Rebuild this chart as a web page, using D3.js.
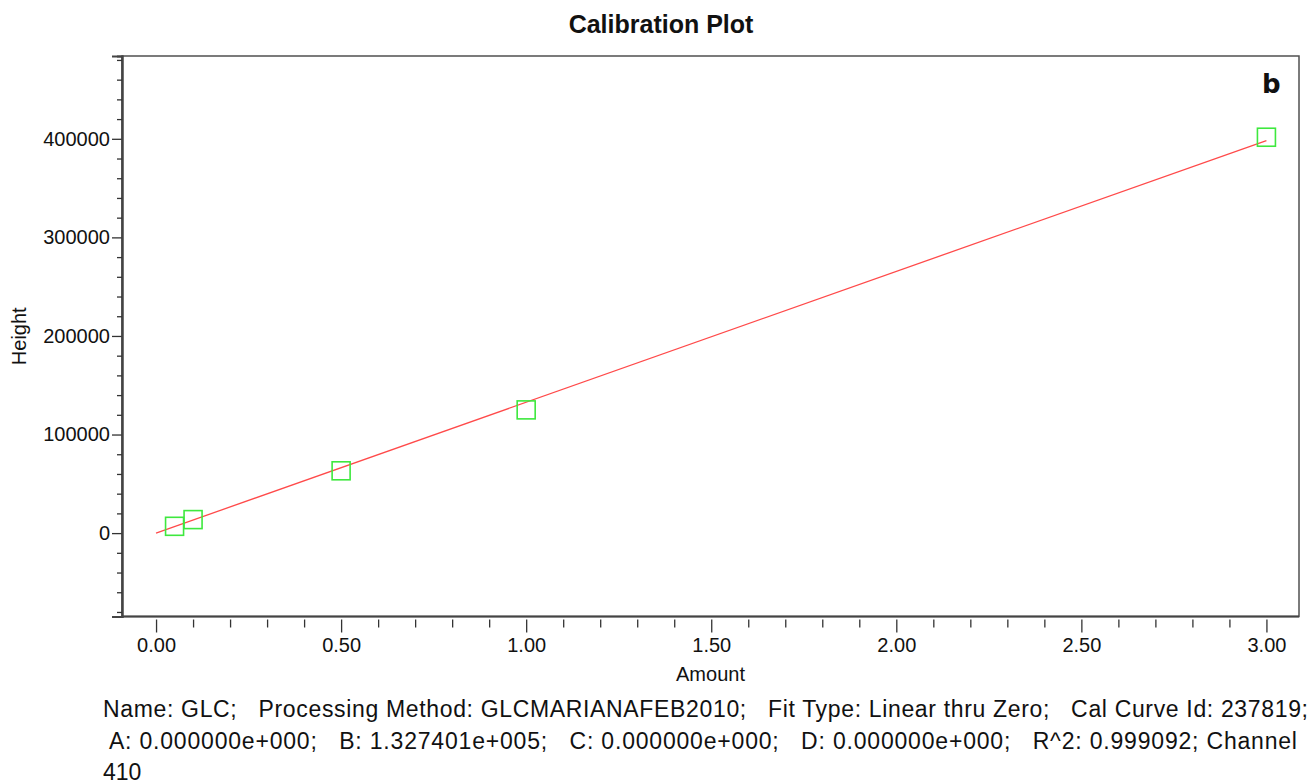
<!DOCTYPE html>
<html>
<head>
<meta charset="utf-8">
<script src="https://cdn.jsdelivr.net/npm/d3@7"></script>
<style>
  html, body { margin: 0; padding: 0; background: #fff; }
  svg { display: block; }
  text { font-family: "Liberation Sans", Arial, sans-serif; fill: #111; }
</style>
</head>
<body>
<svg id="chart" width="1313" height="784"></svg>
<script>
// Calibration standards: amount vs. detector height
const amounts = [0.05, 0.10, 0.50, 1.00, 3.00];
const heights = [6900, 13700, 63200, 125000, 401600];

// Fit coefficients (linear through zero)
const fitA = 0;
const fitB = 1.327401e5;
const fitRange = [0, 3.0];

// Axis ticks
const xMajorTicks = [0, 0.5, 1.0, 1.5, 2.0, 2.5, 3.0];
const xMinorTicks = [0.1, 0.2, 0.3, 0.4, 0.6, 0.7, 0.8, 0.9, 1.1, 1.2, 1.3, 1.4,
                     1.6, 1.7, 1.8, 1.9, 2.1, 2.2, 2.3, 2.4, 2.6, 2.7, 2.8, 2.9];
const yMajorTicks = [0, 100000, 200000, 300000, 400000];
const yMinorTicks = [-80000, -60000, -40000, -20000, 20000, 40000, 60000, 80000,
                     120000, 140000, 160000, 180000, 220000, 240000, 260000, 280000,
                     320000, 340000, 360000, 380000, 420000, 440000, 460000, 480000];

// Text
const titleText = "Calibration Plot";
const panelLetter = "b";
const xTitle = "Amount";
const yTitle = "Height";
const footerLines = [
  "Name: GLC;   Processing Method: GLCMARIANAFEB2010;   Fit Type: Linear thru Zero;   Cal Curve Id: 237819;",
  " A: 0.000000e+000;   B: 1.327401e+005;   C: 0.000000e+000;   D: 0.000000e+000;   R^2: 0.999092; Channel",
  "410"
];
// Rendered width of each footer line (null = natural width)
const footerWidths = [1205, 1194, null];

const svg = d3.select("#chart");
const plot = { left: 122, right: 1299, top: 56, bottom: 616.5 };

const x = d3.scaleLinear().domain([-0.092, 3.088]).range([plot.left, plot.right]);
const y = d3.scaleLinear().domain([-84600, 484000]).range([plot.bottom, plot.top]);

// Title
svg.append("text")
  .attr("x", 661).attr("y", 33)
  .attr("text-anchor", "middle")
  .style("font-weight", "bold").style("font-size", "25px")
  .text(titleText);

// Plot frame
svg.append("rect")
  .attr("x", plot.left).attr("y", plot.top)
  .attr("width", plot.right - plot.left).attr("height", plot.bottom - plot.top)
  .attr("fill", "none").attr("stroke", "#505050").attr("stroke-width", 1.5);

// Y axis: major ticks with labels, minor ticks without
const yAxisG = svg.append("g").attr("transform", `translate(${plot.left},0)`);
yAxisG.call(d3.axisLeft(y).tickValues(yMajorTicks).tickSize(10).tickPadding(2)
  .tickFormat(d3.format("d")));
yAxisG.append("g").call(d3.axisLeft(y).tickValues(yMinorTicks).tickSize(5).tickFormat(""));
yAxisG.selectAll(".domain").attr("stroke", "#444").attr("stroke-width", 2);
yAxisG.selectAll(".tick line").attr("stroke", "#333").attr("stroke-width", 1.3);
yAxisG.selectAll(".tick text").style("font-size", "20px").attr("fill", "#111")
  .style("font-family", "'Liberation Sans', Arial, sans-serif");

// X axis: ticks sit just below the axis line
const xAxisG = svg.append("g").attr("transform", `translate(0,${plot.bottom + 3})`);
xAxisG.call(d3.axisBottom(x).tickValues(xMajorTicks).tickSize(13).tickPadding(5)
  .tickFormat(d3.format(".2f")));
xAxisG.append("g").call(d3.axisBottom(x).tickValues(xMinorTicks).tickSize(8).tickFormat(""));
xAxisG.selectAll(".domain").remove();
xAxisG.selectAll(".tick line").attr("stroke", "#333").attr("stroke-width", 1.3);
xAxisG.selectAll(".tick text").style("font-size", "20px").attr("fill", "#111")
  .style("font-family", "'Liberation Sans', Arial, sans-serif");
svg.append("line")
  .attr("x1", plot.left).attr("x2", plot.right)
  .attr("y1", plot.bottom).attr("y2", plot.bottom)
  .attr("stroke", "#444").attr("stroke-width", 2);

// Axis titles
svg.append("text")
  .attr("x", (plot.left + plot.right) / 2).attr("y", 681)
  .attr("text-anchor", "middle").style("font-size", "20px")
  .text(xTitle);
svg.append("text")
  .attr("transform", `translate(26,${(plot.top + plot.bottom) / 2}) rotate(-90)`)
  .attr("text-anchor", "middle").style("font-size", "20px")
  .text(yTitle);

// Fitted calibration line
const fitLine = d3.line().x(d => x(d)).y(d => y(fitA + fitB * d));
svg.append("path")
  .attr("d", fitLine(fitRange))
  .attr("fill", "none").attr("stroke", "#ff4a4a").attr("stroke-width", 1.3);

// Standards as open squares
const side = 18;
svg.append("g").selectAll("rect")
  .data(amounts.map((a, i) => ({ a, h: heights[i] })))
  .join("rect")
  .attr("x", d => x(d.a) - side / 2)
  .attr("y", d => y(d.h) - side / 2)
  .attr("width", side).attr("height", side)
  .attr("fill", "none").attr("stroke", "#3ee83e").attr("stroke-width", 1.6);

// Panel letter
svg.append("text")
  .attr("x", 1262).attr("y", 93)
  .style("font-family", "'DejaVu Sans', Verdana, sans-serif")
  .style("font-weight", "bold").style("font-size", "26px")
  .attr("fill", "#000")
  .text(panelLetter);

// Calibration details below the plot
const footer = svg.append("g").selectAll("text")
  .data(footerLines)
  .join("text")
  .attr("x", 103)
  .attr("y", (d, i) => [717, 749, 780][i])
  .style("font-size", "23px")
  .style("white-space", "pre")
  .attr("fill", "#000")
  .text(d => d);
footer.filter((d, i) => footerWidths[i] !== null)
  .attr("textLength", (d, i, nodes) => footerWidths[footerLines.indexOf(d)])
  .attr("lengthAdjust", "spacing");
</script>
</body>
</html>
